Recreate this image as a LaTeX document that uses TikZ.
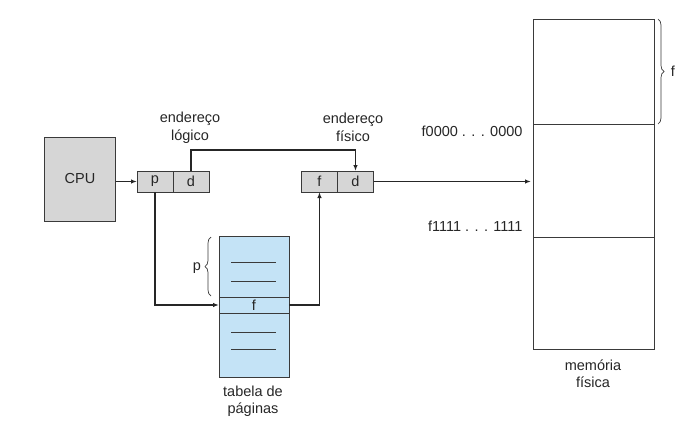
\documentclass[tikz,border=0pt]{standalone}
\usepackage{fontspec}
\setmainfont{Liberation Sans}
\usetikzlibrary{arrows.meta,positioning,decorations.pathreplacing}
\definecolor{boxgray}{HTML}{D6D6D6}
\definecolor{tblblue}{HTML}{C4E3F6}
\definecolor{linegray}{HTML}{3A3A3A}

\begin{document}
\begin{tikzpicture}[
    x=1pt, y=-1pt,
    every node/.style={font=\fontsize{14.5}{17.5}\selectfont, text=black!85},
    cpubox/.style={draw=linegray, fill=boxgray, minimum width=71pt, minimum height=84pt, inner sep=0pt, outer sep=0pt},
    cell/.style={draw=linegray, fill=boxgray, minimum width=36pt, minimum height=21pt, inner sep=0pt, outer sep=0pt},
    table/.style={draw=linegray, fill=tblblue, minimum width=70pt, minimum height=141pt, inner sep=0pt, outer sep=0pt},
    frame/.style={draw=linegray, minimum width=121pt, inner sep=0pt, outer sep=0pt},
    label/.style={align=center},
    flow/.style={-{Latex[length=6pt,width=4.5pt]}, line width=1.3pt, draw=black!85},
    entry/.style={line width=0.9pt, draw=linegray},
    brace/.style={decorate, decoration={brace, amplitude=6pt}, draw=linegray, line width=0.7pt}
]
\useasboundingbox (0,0) rectangle (685,426);

% CPU and logical address
\node[cpubox] (cpu) at (80,179) {CPU};
\node[cell] (p) at (155,181.5) {p};
\node[cell, right=0pt of p] (dl) {d};
\node[label] (logico) at (190,127.5) {endereço\\lógico};

% physical address
\node[cell] (f) at (319.5,181.5) {f};
\node[cell, right=0pt of f] (dp) {d};
\node[label] (fisico) at (353,127.5) {endereço\\físico};

% page table
\node[table] (tbl) at (254,306.5) {};
\node[draw=linegray, minimum width=70pt, minimum height=16pt, inner sep=0pt, outer sep=0pt] (frow) at (254,305) {f};
\foreach \yy in {262,281,332,349}
    \draw[entry] (231,\yy) -- (276,\yy);
\node[label] (tbllabel) at (253,401) {tabela de\\páginas};
\draw[brace] (211,296) -- (211,237);
\node (plabel) at (197,268) {p};

% physical memory
\node[frame, minimum height=105pt] (frame1) at (593.5,71.5) {};
\node[frame, minimum height=113pt, below=0pt of frame1] (frame2) {};
\node[frame, minimum height=112pt, below=0pt of frame2] (frame3) {};
\node[label] (memlabel) at (593,373.5) {memória\\física};
\draw[brace] (658,19) -- (658,124);
\node (flabel) at (673,71) {f};
\node[anchor=east] (base) at (526,131) {f0000 . . . 0000};
\node[anchor=east] (top) at (526,226) {f1111 . . . 1111};

% connectors
\draw[flow] (cpu.east |- p.west) -- (p.west);
\draw[flow] (dl.north) -- ++(0,-21) -| (dp.north);
\draw[flow] (p.south) |- (frow.west);
\draw[flow] (frow.east) -| (f.south);
\draw[flow, shorten >=2pt] (dp.east) -- (dp.east -| frame2.west);
\end{tikzpicture}
\end{document}
